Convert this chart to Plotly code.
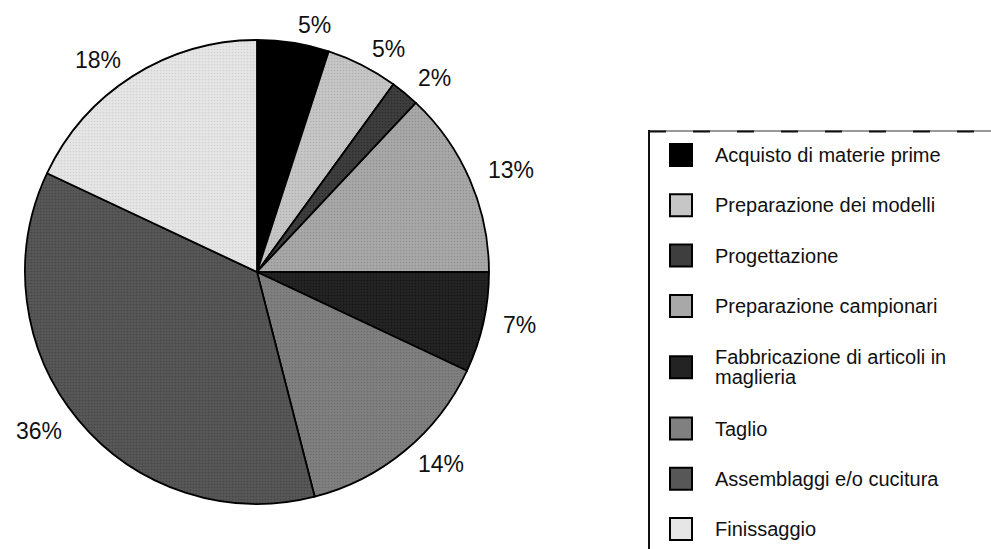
import math
import plotly.graph_objects as go

# Share of each production phase (percent)
categories = [
    "Acquisto di materie prime",
    "Preparazione dei modelli",
    "Progettazione",
    "Preparazione campionari",
    "Fabbricazione di articoli in<br>maglieria",
    "Taglio",
    "Assemblaggi e/o cucitura",
    "Finissaggio",
]
values = [5, 5, 2, 13, 7, 14, 36, 18]

# Grey tones (base tone, darker stipple tone)
fills = ["#000000", "#c6c6c6", "#3e3e3e", "#a8a8a8", "#232323", "#808080", "#575757", "#e6e6e6"]
stipple = ["#000000", "#9a9a9a", "#1a1a1a", "#7a7a7a", "#0a0a0a", "#5a5a5a", "#383838", "#bdbdbd"]

W, H = 991, 549
CX, CY, R = 257, 272, 232          # pie centre and radius in pixels
FONT = "Liberation Sans, Arial, Helvetica, sans-serif"


def px(x):
    return x / W


def py(y):
    return 1 - y / H


fig = go.Figure()
fig.add_trace(go.Pie(
    labels=categories,
    values=values,
    sort=False,
    direction="clockwise",
    rotation=0,
    textinfo="none",
    hoverinfo="label+percent",
    showlegend=False,
    marker=dict(
        colors=fills,
        line=dict(color="#000000", width=1.8),
        pattern=dict(shape=".", fgcolor=stipple, bgcolor=fills, size=3, solidity=0.25,
                     fillmode="overlay"),
    ),
    domain=dict(x=[px(CX - R), px(CX + R)], y=[py(CY + R), py(CY - R)]),
))

# Percentage labels outside each slice, placed at the slice's mid-angle
annotations = []
total = sum(values)
cum = 0
for v in values:
    mid = (cum + v / 2) / total * 2 * math.pi
    cum += v
    s, c = math.sin(mid), math.cos(mid)
    ax = CX + (R + 18) * s
    ay = CY - (R + 13) * c
    xanchor = "left" if s >= 0 else "right"
    if c > 0.3:
        yanchor, ay = "bottom", ay + 10
    elif c < -0.3:
        yanchor, ay = "top", ay - 12
    else:
        yanchor = "middle"
    annotations.append(dict(
        x=px(ax), y=py(ay), xref="paper", yref="paper",
        text=f"{v}%", showarrow=False, xanchor=xanchor, yanchor=yanchor,
        font=dict(family=FONT, size=23, color="#111111"),
    ))

# Legend panel drawn at the right
shapes = [
    dict(type="line", xref="paper", yref="paper", x0=px(649), x1=1.0, y0=py(131), y1=py(131),
         line=dict(color="#333333", width=1)),
    dict(type="line", xref="paper", yref="paper", x0=px(649), x1=1.0, y0=py(131.5), y1=py(131.5),
         line=dict(color="#111111", width=2.2, dash="17px,27px")),
    dict(type="line", xref="paper", yref="paper", x0=px(649), x1=px(649), y0=py(130), y1=0,
         line=dict(color="#111111", width=2)),
]

row_y = 155.0
ROW_STEP = 50.3
LINE_STEP = 20
for name, col in zip(categories, fills):
    lines = name.split("<br>")
    half = 11 * (len(lines) - 1)
    row_y += half
    shapes.append(dict(
        type="rect", xref="paper", yref="paper",
        x0=px(670), x1=px(692), y0=py(row_y + 11), y1=py(row_y - 11),
        fillcolor=col, line=dict(color="#000000", width=2),
    ))
    first = row_y - LINE_STEP * (len(lines) - 1) / 2
    for k, ln in enumerate(lines):
        annotations.append(dict(
            x=px(713), y=py(first + k * LINE_STEP), xref="paper", yref="paper",
            text=ln, showarrow=False, xanchor="left", yanchor="middle",
            font=dict(family=FONT, size=20, color="#111111"),
        ))
    row_y += half + ROW_STEP

fig.update_layout(
    width=W, height=H,
    margin=dict(l=0, r=0, t=0, b=0),
    paper_bgcolor="#ffffff",
    plot_bgcolor="#ffffff",
    annotations=annotations,
    shapes=shapes,
)

fig.write_html("out.html")
